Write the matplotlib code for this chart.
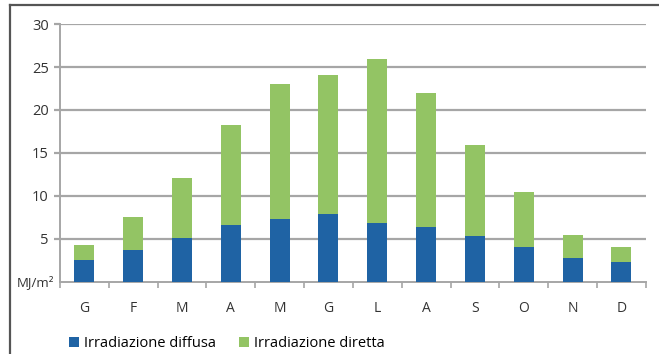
import matplotlib.pyplot as plt
from matplotlib.lines import Line2D
import numpy as np

plt.rcParams['font.family'] = ['Open Sans', 'DejaVu Sans']

mesi = ['G', 'F', 'M', 'A', 'M', 'G', 'L', 'A', 'S', 'O', 'N', 'D']
diffusa = [2.5, 3.7, 5.15, 6.6, 7.35, 7.9, 6.85, 6.35, 5.35, 4.05, 2.8, 2.3]
totale = [4.3, 7.55, 12.05, 18.25, 23.05, 24.05, 25.95, 21.95, 15.95, 10.45, 5.45, 4.05]
diretta = [t - d for t, d in zip(totale, diffusa)]

BLU = '#1f63a4'
VERDE = '#93c464'
GRIGIO = '#a6a6a6'

fig = plt.figure(figsize=(6.59, 3.54), dpi=100)
ax = fig.add_axes([0.091, 0.2034, 0.889, 0.7288])

x = np.arange(len(mesi))
b1 = ax.bar(x, diffusa, width=0.41, color=BLU, zorder=3)
b2 = ax.bar(x, diretta, bottom=diffusa, width=0.41, color=VERDE, zorder=3)

ax.set_xlim(-0.5, len(mesi) - 0.5)
ax.set_ylim(0, 30)
ax.set_yticks([5, 10, 15, 20, 25, 30])
ax.yaxis.grid(True, color=GRIGIO, linewidth=1.6, zorder=0)

# category labels centred, tick marks on the boundaries
ax.set_xticks(x)
ax.set_xticklabels(mesi)
ax.set_xticks(np.arange(len(mesi) + 1) - 0.5, minor=True)
ax.tick_params(axis='x', which='major', length=0, pad=14, labelsize=10, colors='#333333')
ax.tick_params(axis='x', which='minor', length=4, width=1.2, color=GRIGIO)
ax.tick_params(axis='y', length=4, width=1.6, color=GRIGIO, pad=4, labelsize=10.5, labelcolor='#333333')

for side in ['top', 'right']:
    ax.spines[side].set_visible(False)
for side in ['left', 'bottom']:
    ax.spines[side].set_color(GRIGIO)
    ax.spines[side].set_linewidth(1.4)

# unit label at the zero level, left of the axis
ax.annotate('MJ/m²', xy=(0, 0), xycoords=ax.get_yaxis_transform(),
            xytext=(-4, 0), textcoords='offset points', ha='right', va='center',
            fontsize=9.5, color='#333333')

fig.legend([b1, b2], ['Irradiazione diffusa', 'Irradiazione diretta'],
           loc='lower left', bbox_to_anchor=(0.085, -0.03), ncol=2, frameon=False,
           handlelength=0.7, handleheight=0.7, handletextpad=0.3, columnspacing=1.6,
           fontsize=10.5)

# outer frame of the figure
fig.add_artist(Line2D([10 / 659, 10 / 659], [0, 1 - 5 / 354], color='#555555', linewidth=1.6))
fig.add_artist(Line2D([10 / 659, 1], [1 - 5 / 354, 1 - 5 / 354], color='#555555', linewidth=1.6))

fig.savefig('out.png', dpi=100)
